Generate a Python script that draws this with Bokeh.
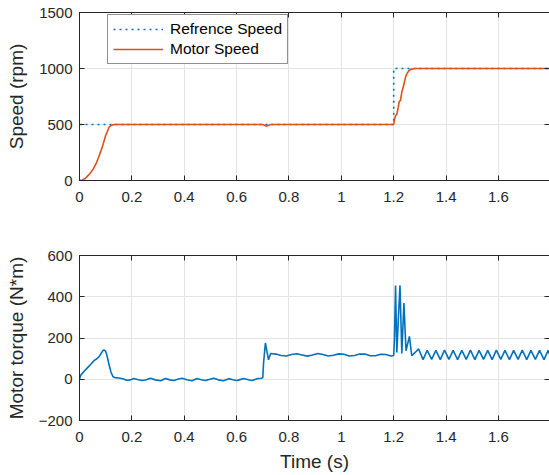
from bokeh.plotting import figure
from bokeh.models import LinearAxis, FixedTicker, Range1d, Legend, LegendItem
from bokeh.layouts import column
from bokeh.embed import file_html
from bokeh.resources import INLINE

# ---- data -------------------------------------------------------------
ref_t = [0, 1.2, 1.2, 1.8]
ref_speed = [500, 500, 1000, 1000]

motor_t = [0, 0.01, 0.02, 0.027, 0.04, 0.053, 0.065, 0.073, 0.087, 0.1,
           0.113, 0.12, 0.127, 0.135, 0.15, 0.7, 0.705, 0.712, 0.72, 0.73,
           1.2, 1.203, 1.207, 1.212, 1.217, 1.221, 1.226, 1.231, 1.236,
           1.241, 1.246, 1.252, 1.258, 1.265, 1.275, 1.285, 1.8]
motor_speed = [0, 5, 15, 30, 62, 104, 160, 208, 298, 402,
               476, 490, 497, 500, 500, 500, 495, 485, 492, 500,
               500, 545, 580, 590, 650, 705, 715, 790, 830,
               880, 930, 960, 980, 992, 998, 1000, 1000]

torque_t = [0, 0.005, 0.015, 0.03, 0.045, 0.055, 0.065, 0.075, 0.085, 0.09,
            0.095, 0.1, 0.105, 0.112, 0.12, 0.128, 0.135, 0.15, 0.165, 0.18,
            0.195, 0.207, 0.225, 0.24, 0.255, 0.271, 0.29, 0.31, 0.328, 0.345,
            0.36, 0.375, 0.392, 0.41, 0.43, 0.449, 0.465, 0.48, 0.495, 0.513,
            0.53, 0.55, 0.57, 0.585, 0.6, 0.61, 0.627, 0.645, 0.66, 0.678,
            0.695, 0.7, 0.703, 0.71, 0.715, 0.722, 0.73, 0.75, 0.77, 0.79,
            0.81, 0.83, 0.85, 0.87, 0.89, 0.91, 0.93, 0.95, 0.97, 0.99,
            1.01, 1.03, 1.05, 1.07, 1.09, 1.11, 1.13, 1.15, 1.17, 1.19,
            1.2, 1.203, 1.207, 1.212, 1.218, 1.224, 1.231, 1.239, 1.247, 1.26,
            1.269, 1.282, 1.295, 1.312, 1.328, 1.345, 1.361, 1.378, 1.394, 1.411,
            1.427, 1.444, 1.46, 1.477, 1.493, 1.51, 1.526, 1.543, 1.559, 1.576,
            1.592, 1.609, 1.625, 1.642, 1.658, 1.675, 1.691, 1.708, 1.724, 1.741,
            1.757, 1.774, 1.79, 1.8]
torque = [0, 20, 35, 55, 75, 90, 98, 110, 130, 140,
          142, 135, 115, 75, 35, 12, 8, 6, 2, -5,
          -3, 4, -2, -6, -2, 5, -3, -7, 4, -3,
          -6, 0, 5, -2, -7, 4, -2, -6, -1, 5,
          -3, -7, 3, -2, -6, -3, 4, -2, -6, 3,
          5, 8, 80, 176, 140, 94, 125, 122, 115, 113,
          120, 124, 118, 112, 118, 125, 120, 113, 116, 123,
          121, 113, 115, 122, 122, 114, 114, 121, 120, 113,
          115, 200, 455, 130, 300, 455, 125, 369, 138, 208,
          114, 130, 147, 95, 140, 96, 140, 95, 141, 96,
          140, 95, 140, 96, 141, 95, 140, 96, 140, 95,
          141, 96, 140, 95, 140, 96, 141, 95, 140, 96,
          140, 95, 140, 105]

x_ticks = [0, 0.2, 0.4, 0.6, 0.8, 1, 1.2, 1.4, 1.6]
x_tick_labels = ["0", "0.2", "0.4", "0.6", "0.8", "1", "1.2", "1.4", "1.6"]
speed_ticks = [0, 500, 1000, 1500]
torque_ticks = [-200, 0, 200, 400, 600]

# ---- styling ----------------------------------------------------------
FONT = "Liberation Sans"
INK = "#262626"
BLUE = "#0072BD"
ORANGE = "#D95319"
X_END = 1.795


def box_axis(ticker, line_color):
    # unlabelled axis used for the top/right edges of the box
    return LinearAxis(ticker=ticker, major_label_text_font_size="0px",
                      major_label_text_color=None, major_label_standoff=0,
                      major_tick_in=5, major_tick_out=0,
                      minor_tick_line_color=None, axis_line_color=line_color,
                      major_tick_line_color=INK)


def style(p, yticks):
    p.outline_line_color = None
    p.background_fill_color = "white"
    p.border_fill_color = "white"
    xt = FixedTicker(ticks=x_ticks)
    yt = FixedTicker(ticks=yticks)
    for ax in p.xaxis:
        ax.ticker = xt
        ax.major_label_overrides = dict(zip(x_ticks, x_tick_labels))
    for ax in p.yaxis:
        ax.ticker = yt
    for ax in p.axis:
        ax.axis_line_color = INK
        ax.major_tick_line_color = INK
        ax.major_tick_in = 5
        ax.major_tick_out = 0
        ax.minor_tick_line_color = None
        ax.major_label_text_font = FONT
        ax.major_label_text_font_size = "15px"
        ax.major_label_text_color = INK
        ax.axis_label_text_font = FONT
        ax.axis_label_text_font_size = "19px"
        ax.axis_label_text_font_style = "normal"
        ax.axis_label_text_color = INK
    p.xaxis.major_label_standoff = 11
    p.yaxis.major_label_standoff = 7
    p.yaxis.axis_label_standoff = 9
    p.xaxis.axis_label_standoff = 6
    p.xgrid.ticker = xt
    p.ygrid.ticker = yt
    p.grid.grid_line_color = "#e3e3e3"
    p.grid.grid_line_width = 1

    p.add_layout(box_axis(xt, INK), "above")
    p.add_layout(box_axis(yt, None), "right")


# ---- speed panel ------------------------------------------------------
p1 = figure(width=549, height=215, output_backend="svg", toolbar_location=None,
            x_range=Range1d(0, X_END), y_range=Range1d(0, 1500),
            min_border_left=79, min_border_right=0, min_border_top=12,
            min_border_bottom=35)
p1.yaxis.axis_label = "Speed (rpm)"
r_ref = p1.line(ref_t, ref_speed, line_color=BLUE, line_width=1.6,
                line_dash="2 4")
r_mot = p1.line(motor_t, motor_speed, line_color=ORANGE, line_width=1.6)
style(p1, speed_ticks)

legend = Legend(items=[LegendItem(label="Refrence Speed", renderers=[r_ref]),
                       LegendItem(label="Motor Speed", renderers=[r_mot])],
                location=(28, 116), glyph_width=50, glyph_height=18,
                label_height=18, label_standoff=7, padding=5, spacing=2,
                margin=0, border_line_color=INK, border_line_width=1,
                background_fill_color="white", background_fill_alpha=1,
                label_text_font=FONT, label_text_font_size="15.5px",
                label_text_color="black")
p1.add_layout(legend, "center")

# ---- torque panel -----------------------------------------------------
p2 = figure(width=549, height=260, output_backend="svg", toolbar_location=None,
            x_range=Range1d(0, X_END), y_range=Range1d(-200, 600),
            min_border_left=79, min_border_right=0, min_border_top=40,
            min_border_bottom=55)
p2.yaxis.axis_label = "Motor torque (N*m)"
p2.xaxis.axis_label = "Time (s)"
p2.line(torque_t, torque, line_color=BLUE, line_width=1.6)
style(p2, torque_ticks)

layout = column(p1, p2)
open("out.html", "w").write(file_html(layout, INLINE))
